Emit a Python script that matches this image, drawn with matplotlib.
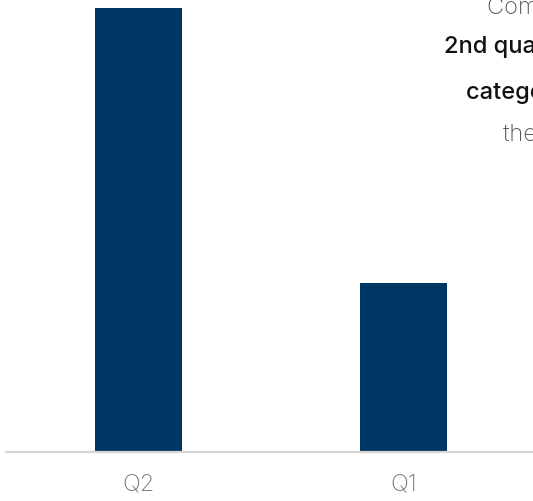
import matplotlib.pyplot as plt

# Data
QUARTERS = ['Q2', 'Q1']
VALUES = [100, 38]
NOTE_LINES = ['Compared to the', '2nd quarter, the', 'category fell', 'the most']
NOTE_BOLD = [False, True, True, False]

BAR_COLOR = '#003663'
AXIS_COLOR = '#d6d6d6'
LABEL_COLOR = '#7a7a7a'

W, H = 533, 502
fig = plt.figure(figsize=(W / 100, H / 100), dpi=100)
ax = fig.add_axes([6 / W, (H - 453) / H, 530 / W, (453 - 9) / H])

x = range(len(QUARTERS))
ax.bar(x, VALUES, width=0.33, color=BAR_COLOR)
ax.set_xlim(-0.5, len(QUARTERS) - 0.5)
ax.set_ylim(0, max(VALUES))

for side in ['top', 'right', 'left']:
    ax.spines[side].set_visible(False)
ax.spines['bottom'].set_color(AXIS_COLOR)
ax.spines['bottom'].set_linewidth(1.6)
ax.spines['bottom'].set_clip_on(False)
ax.set_yticks([])
ax.set_xticks(list(x))
ax.set_xticklabels(QUARTERS, fontsize=17, color=LABEL_COLOR,
                   family='Inter', fontweight='light')
ax.tick_params(axis='x', length=0, pad=15)

# annotation block at right, runs past the figure edge like the original
x_start = [487, 444, 466, 503]
y_pos = [8, 47, 93, 135]
for line, bold, xs, yp in zip(NOTE_LINES, NOTE_BOLD, x_start, y_pos):
    fig.text(xs / W, 1 - yp / H, line, ha='left', va='center',
             fontsize=17, family='Inter',
             fontweight='medium' if bold else 'light',
             color='#111111' if bold else '#555555')

fig.savefig('out.png', dpi=100)
